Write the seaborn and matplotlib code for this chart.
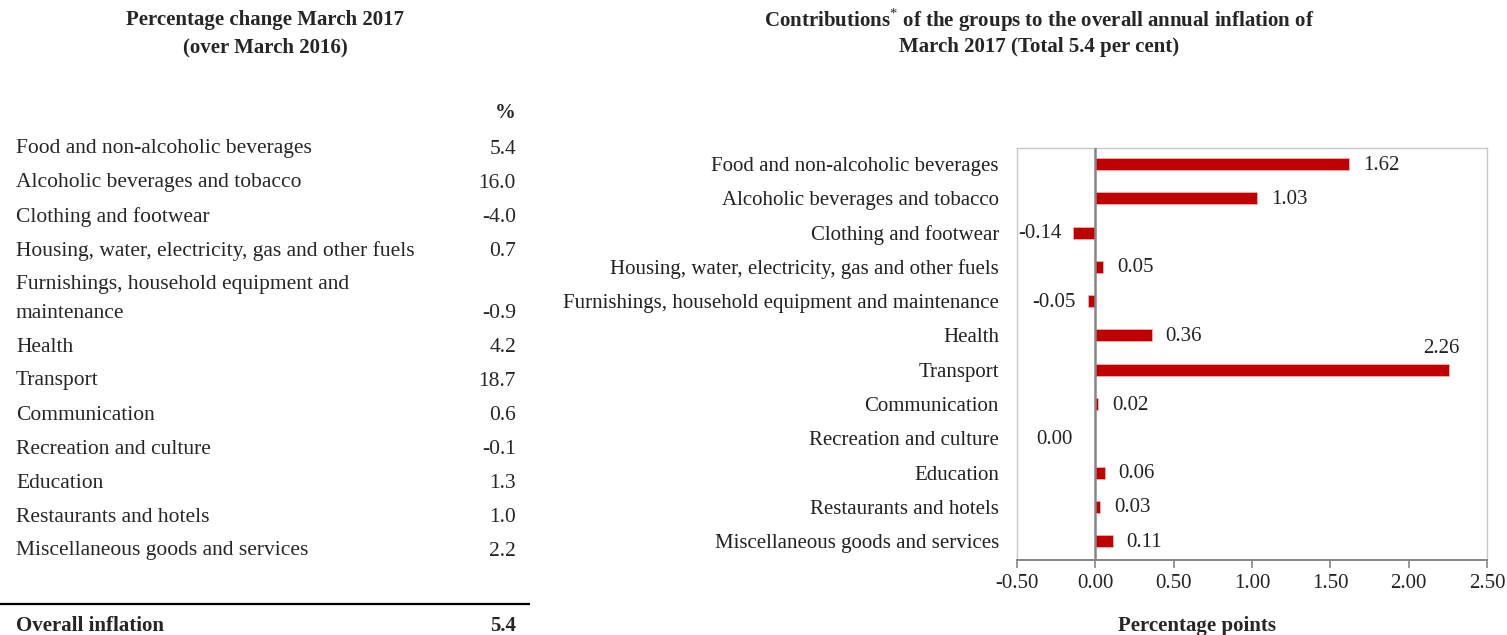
import matplotlib
matplotlib.use("Agg")
import matplotlib.pyplot as plt
import seaborn as sns
import pandas as pd

groups = [
    "Food and non-alcoholic beverages",
    "Alcoholic beverages and tobacco",
    "Clothing and footwear",
    "Housing, water, electricity, gas and other fuels",
    "Furnishings, household equipment and maintenance",
    "Health",
    "Transport",
    "Communication",
    "Recreation and culture",
    "Education",
    "Restaurants and hotels",
    "Miscellaneous goods and services",
]
pct_change = [5.4, 16.0, -4.0, 0.7, -0.9, 4.2, 18.7, 0.6, -0.1, 1.3, 1.0, 2.2]
contributions = [1.62, 1.03, -0.14, 0.05, -0.05, 0.36, 2.26, 0.02, 0.00, 0.06, 0.03, 0.11]
overall_inflation = 5.4
x_ticks = [-0.5, 0.0, 0.5, 1.0, 1.5, 2.0, 2.5]

sns.set_theme(style="white")
plt.rcParams["font.family"] = ["Liberation Serif", "DejaVu Serif"]
plt.rcParams["mathtext.fontset"] = "custom"
plt.rcParams["mathtext.rm"] = "Liberation Serif"
plt.rcParams["mathtext.bf"] = "Liberation Serif:bold"

W, H = 1507, 635
fig = plt.figure(figsize=(W / 100, H / 100), dpi=100)

# ---- left: table of percentage changes ----
tab = fig.add_axes([0, 0, 540 / W, 1])
tab.set_xlim(0, 540)
tab.set_ylim(H, 0)
tab.axis("off")

tfs = 15.5   # table body
hfs = 15     # headings
cfs = 15     # chart text

tab.text(265, 20, "Percentage change March 2017", ha="center", va="center",
         fontsize=hfs, fontweight="bold")
tab.text(265, 47, "(over March 2016)", ha="center", va="center",
         fontsize=hfs, fontweight="bold")
tab.text(516, 113, "%", ha="right", va="center", fontsize=hfs, fontweight="bold")

y = 149
for name, val in zip(groups, pct_change):
    lines = name.replace(" and maintenance", " and\nmaintenance").split("\n")
    for i, line in enumerate(lines):
        tab.text(16, y + 28 * i, line, ha="left", va="center", fontsize=tfs)
    y_val = y + 28 * (len(lines) - 1)
    tab.text(516, y_val, f"{val:.1f}", ha="right", va="center", fontsize=tfs)
    y = y_val + 34

tab.plot([0, 530], [604, 604], color="black", lw=1.6, solid_capstyle="butt")
tab.text(16, 626, "Overall inflation", ha="left", va="center", fontsize=hfs, fontweight="bold")
tab.text(516, 626, f"{overall_inflation:.1f}", ha="right", va="center", fontsize=hfs,
         fontweight="bold")

# ---- right: contributions bar chart ----
ax = fig.add_axes([1017 / W, 1 - 560 / H, 470 / W, 412 / H])
df = pd.DataFrame({"group": groups, "contribution": contributions})
sns.barplot(data=df, y="group", x="contribution", orient="h", color="#C00000",
            width=0.35, saturation=1, edgecolor="#F2B8B8", linewidth=0.5, ax=ax)

ax.set_xlim(-0.5, 2.5)
ax.set_ylim(len(groups) - 0.45, -0.47)
ax.set_xticks(x_ticks)
ax.set_xticklabels([f"{t:.2f}" for t in x_ticks], fontsize=cfs, color="#222222")
ax.tick_params(axis="x", bottom=True, length=6, width=1.2, color="#868686", pad=4)
ax.tick_params(axis="y", left=False, labelsize=cfs, pad=7, labelcolor="#222222")
ax.set_xlabel("")
ax.set_ylabel("")
ax.axvline(0, color="#868686", lw=1.8, zorder=3)
for side in ["top", "right", "left"]:
    ax.spines[side].set_color("#C8C8C8")
    ax.spines[side].set_linewidth(1)
ax.spines["bottom"].set_color("#868686")
ax.spines["bottom"].set_linewidth(1.4)

for i, v in enumerate(contributions):
    if v > 2.0:
        ax.annotate(f"{v:.2f}", (v, i), xytext=(10, 12), textcoords="offset pixels",
                    ha="right", va="bottom", fontsize=cfs, color="#222222")
    elif v > 0:
        ax.annotate(f"{v:.2f}", (v, i), xytext=(14, -1), textcoords="offset pixels",
                    ha="left", va="center", fontsize=cfs, color="#222222")
    elif v < 0:
        ax.annotate(f"{v:.2f}", (v, i), xytext=(-12, -1), textcoords="offset pixels",
                    ha="right", va="center", fontsize=cfs, color="#222222")
    else:
        ax.annotate(f"{v:.2f}", (v, i), xytext=(-23, -1), textcoords="offset pixels",
                    ha="right", va="center", fontsize=cfs, color="#222222")

fig.text(1039 / W, 1 - 20 / H, "Contributions$^{*}$ of the groups to the overall annual inflation of",
         ha="center", va="center", fontsize=hfs, fontweight="bold")
fig.text(1039 / W, 1 - 47 / H, "March 2017 (Total 5.4 per cent)",
         ha="center", va="center", fontsize=hfs, fontweight="bold")
fig.text(1197 / W, 1 - 626 / H, "Percentage points", ha="center", va="center",
         fontsize=hfs, fontweight="bold")

fig.savefig("out.png", dpi=100, facecolor="white")
